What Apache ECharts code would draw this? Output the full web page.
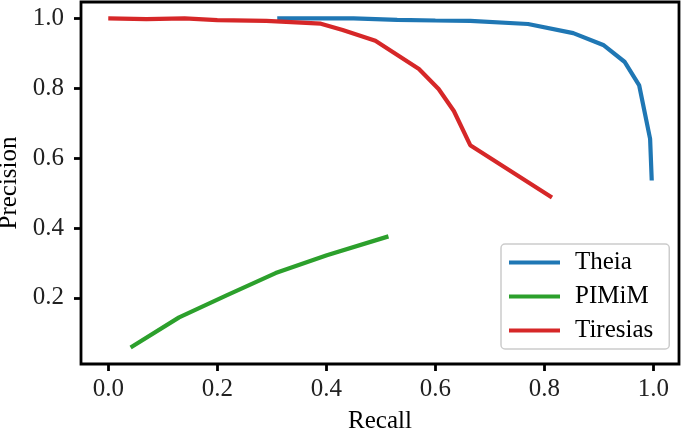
<!DOCTYPE html>
<html>
<head>
<meta charset="utf-8">
<script src="https://cdn.jsdelivr.net/npm/echarts@6/dist/echarts.min.js"></script>
<style>html,body{margin:0;padding:0;background:#fff;}#c{width:685px;height:431px;}</style>
</head>
<body>
<div id="c"></div>
<script>
var theiaRecall    = [0.31, 0.45, 0.53, 0.60, 0.664, 0.77, 0.853, 0.908, 0.947, 0.974, 0.994, 0.997];
var theiaPrecision = [1.0, 1.0, 0.996, 0.994, 0.993, 0.984, 0.958, 0.924, 0.876, 0.808, 0.655, 0.536];
var pimimRecall    = [0.041, 0.13, 0.218, 0.307, 0.401, 0.514];
var pimimPrecision = [0.058, 0.144, 0.208, 0.271, 0.322, 0.376];
var tiresiasRecall    = [0.0, 0.07, 0.14, 0.2, 0.29, 0.39, 0.43, 0.49, 0.57, 0.606, 0.634, 0.664, 0.814];
var tiresiasPrecision = [1.0, 0.998, 1.0, 0.995, 0.993, 0.985, 0.967, 0.936, 0.855, 0.798, 0.735, 0.637, 0.487];
var xTicks = [0.0, 0.2, 0.4, 0.6, 0.8, 1.0];
var yTicks = [0.2, 0.4, 0.6, 0.8, 1.0];
var seriesNames = ['Theia', 'PIMiM', 'Tiresias'];
var colors = ['#1f77b4', '#2ca02c', '#d62728'];

function pairs(xs, ys) { return xs.map(function (x, i) { return [x, ys[i]]; }); }
var datasets = [pairs(theiaRecall, theiaPrecision), pairs(pimimRecall, pimimPrecision), pairs(tiresiasRecall, tiresiasPrecision)];

var font = 'Liberation Serif';
var fs = 25;
var chart = echarts.init(document.getElementById('c'));
chart.setOption({
  animation: false,
  backgroundColor: '#fff',
  grid: { left: 81, right: 6, top: 2, bottom: 67, outerBoundsMode: 'none', containLabel: false,
          show: true, borderColor: '#000', borderWidth: 2.8, backgroundColor: 'transparent' },
  xAxis: {
    type: 'value', min: -0.05, max: 1.047,
    name: 'Recall', nameLocation: 'middle', nameGap: 45,
    nameTextStyle: { fontFamily: font, fontSize: fs, color: '#000' },
    axisLine: { show: false, onZero: false },
    splitLine: { show: false },
    axisTick: { show: true, customValues: xTicks, length: 7, inside: false, lineStyle: { color: '#000', width: 2.8 } },
    axisLabel: { customValues: xTicks, margin: 13, fontFamily: font, fontSize: fs, color: '#222', formatter: function (v) { return v.toFixed(1); } }
  },
  yAxis: {
    type: 'value', min: 0.0106, max: 1.047,
    name: 'Precision', nameLocation: 'middle', nameGap: 57, nameRotate: 90,
    nameTextStyle: { fontFamily: font, fontSize: fs, color: '#000' },
    axisLine: { show: false, onZero: false },
    splitLine: { show: false },
    axisTick: { show: true, customValues: yTicks, length: 7, inside: false, lineStyle: { color: '#000', width: 2.8 } },
    axisLabel: { customValues: yTicks, margin: 17, fontFamily: font, fontSize: fs, color: '#222', formatter: function (v) { return v.toFixed(1); } }
  },
  legend: {
    left: 501, top: 244, orient: 'vertical',
    icon: 'rect', itemWidth: 51, itemHeight: 4, itemGap: 9,
    padding: [6, 16, 6, 8],
    borderColor: '#cccccc', borderWidth: 1.5, borderRadius: 4,
    backgroundColor: 'rgba(255,255,255,0.8)',
    textStyle: { fontFamily: font, fontSize: fs, color: '#000', padding: [0, 0, 0, 10] },
    data: seriesNames
  },
  series: seriesNames.map(function (n, i) {
    return {
      name: n, type: 'line', data: datasets[i], symbol: 'none', showSymbol: false,
      lineStyle: { color: colors[i], width: 4.2 }, itemStyle: { color: colors[i] }
    };
  })
});
</script>
</body>
</html>
